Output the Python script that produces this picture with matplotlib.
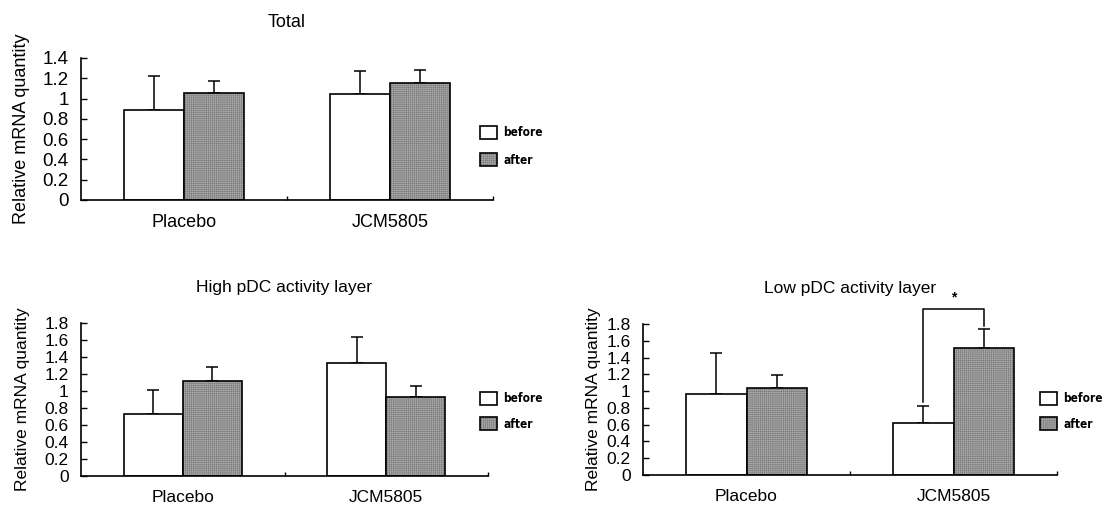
import numpy as np
import matplotlib
matplotlib.use("Agg")
import matplotlib.pyplot as plt
from matplotlib import font_manager
from matplotlib.font_manager import FontProperties
from matplotlib.legend_handler import HandlerTuple
from matplotlib.ticker import FixedLocator, FuncFormatter

plt.rcParams['font.family'] = ['Liberation Sans', 'DejaVu Sans']
plt.rcParams['hatch.linewidth'] = 0.45

# ---- data ----
groups = ["Placebo", "JCM5805"]
series = ["before", "after"]

total_before = [0.89, 1.045]
total_before_err = [0.335, 0.225]
total_after = [1.055, 1.155]
total_after_err = [0.115, 0.125]

high_before = [0.727, 1.334]
high_before_err = [0.285, 0.299]
high_after = [1.116, 0.928]
high_after_err = [0.167, 0.128]

low_before = [0.97, 0.62]
low_before_err = [0.49, 0.206]
low_after = [1.035, 1.51]
low_after_err = [0.161, 0.226]

titles = ["Total", "High pDC activity layer", "Low pDC activity layer"]
ylabel = "Relative mRNA quantity"
yticks_total = [0, 0.2, 0.4, 0.6, 0.8, 1.0, 1.2, 1.4]
yticks_layer = [0, 0.2, 0.4, 0.6, 0.8, 1.0, 1.2, 1.4, 1.6, 1.8]

# significance bracket on JCM5805 in the low-activity panel
sig_group = 1
sig_left_base = 0.874
sig_right_base = 1.776
sig_top = 1.98
sig_text = "*"


def condensed_bold():
    """Pick a narrow bold sans face for the legend labels, if one is installed."""
    for f in font_manager.fontManager.ttflist:
        base = f.fname.lower().rsplit('/', 1)[-1]
        if ('narrow' in base or 'condensed' in base) and 'bold' in base \
                and 'oblique' not in base and 'italic' not in base \
                and 'mono' not in base and 'serif' not in base:
            size = 10.5 if 'narrow' in base else 8.5
            return FontProperties(fname=f.fname, size=size)
    return FontProperties(family='Liberation Sans', weight='bold', size=9)


legend_prop = condensed_bold()
legend_px = legend_prop.get_size_in_points() * 100 / 72

W, H = 1104, 505
fig = plt.figure(figsize=(W / 100, H / 100), dpi=100)


def px_axes(l, t, r, b):
    return fig.add_axes([l / W, (H - b) / H, (r - l) / W, (b - t) / H])


AFTER_FACE = '#7a7a7a'
AFTER_HATCH = '#a6a6a6'
BAR_W = 0.29


def draw_panel(ax, title, before, before_err, after, after_err, yticks,
               tick_fs, label_fs, ylabel_x, legend_anchor, row_gap):
    x = np.arange(len(groups))
    b0 = ax.bar(x - BAR_W / 2, before, BAR_W, color='white', edgecolor='black',
                linewidth=1.2, zorder=2)
    # stippled fill (hatch takes the edge colour), then a black outline on top
    b1_fill = ax.bar(x + BAR_W / 2, after, BAR_W, color=AFTER_FACE,
                     edgecolor=AFTER_HATCH, linewidth=0, hatch='++++++++', zorder=2)
    b1_line = ax.bar(x + BAR_W / 2, after, BAR_W, fill=False, edgecolor='black',
                     linewidth=1.2, zorder=2.1)
    ax.errorbar(x - BAR_W / 2, before, yerr=[np.zeros(len(before)), before_err],
                fmt='none', ecolor='black', elinewidth=1.1, capsize=4,
                capthick=1.1, zorder=1)
    ax.errorbar(x + BAR_W / 2, after, yerr=[np.zeros(len(after)), after_err],
                fmt='none', ecolor='black', elinewidth=1.1, capsize=4,
                capthick=1.1, zorder=1)

    ax.set_xlim(-0.5, len(groups) - 0.5)
    ax.set_ylim(0, yticks[-1])
    ax.spines['top'].set_visible(False)
    ax.spines['right'].set_visible(False)
    for s in ('left', 'bottom'):
        ax.spines[s].set_linewidth(1.2)

    ax.set_xticks(x)
    ax.set_xticklabels(groups, fontsize=label_fs)
    ax.tick_params(axis='x', which='major', length=0, pad=10)
    ax.xaxis.set_minor_locator(FixedLocator([0.5, 1.5]))
    ax.tick_params(axis='x', which='minor', direction='in', length=3, width=1)

    ax.set_yticks(yticks)
    ax.yaxis.set_major_formatter(FuncFormatter(lambda v, p: f"{v:g}"))
    ax.tick_params(axis='y', direction='in', length=4, width=1,
                   labelsize=tick_fs, pad=9)

    ax.set_ylabel(ylabel, fontsize=label_fs)
    ax.yaxis.set_label_coords(ylabel_x, 0.5)
    ax.set_title(title, fontsize=label_fs, pad=22)

    ax.legend([b0[0], (b1_fill[0], b1_line[0])], series,
              handler_map={tuple: HandlerTuple(ndivide=1, pad=0)},
              loc='upper left', bbox_to_anchor=legend_anchor,
              bbox_transform=fig.transFigure, frameon=False, prop=legend_prop,
              handlelength=17 / legend_px, handleheight=15 / legend_px,
              handletextpad=6 / legend_px, labelspacing=row_gap / legend_px,
              borderpad=0, borderaxespad=0)


ax1 = px_axes(81, 58, 493, 200)
draw_panel(ax1, titles[0], total_before, total_before_err, total_after,
           total_after_err, yticks_total, 13.5, 13, -0.125,
           (480 / W, (H - 126) / H), 14)

ax2 = px_axes(81, 323, 488, 476)
draw_panel(ax2, titles[1], high_before, high_before_err, high_after,
           high_after_err, yticks_layer, 12.5, 12.5, -0.125,
           (480 / W, (H - 392) / H), 12)

ax3 = px_axes(643, 324, 1057, 475)
draw_panel(ax3, titles[2], low_before, low_before_err, low_after,
           low_after_err, yticks_layer, 12.5, 12.5, -0.102,
           (1040 / W, (H - 392) / H), 12)

# significance bracket
xl = sig_group - BAR_W / 2
xr = sig_group + BAR_W / 2
ax3.plot([xl, xl, xr, xr], [sig_left_base, sig_top, sig_top, sig_right_base],
         color='black', linewidth=1.1, clip_on=False, zorder=3)
ax3.text(sig_group, sig_top + 0.05, sig_text, ha='center', va='bottom',
         fontsize=10, fontweight='bold')

fig.savefig("out.png", dpi=100)
